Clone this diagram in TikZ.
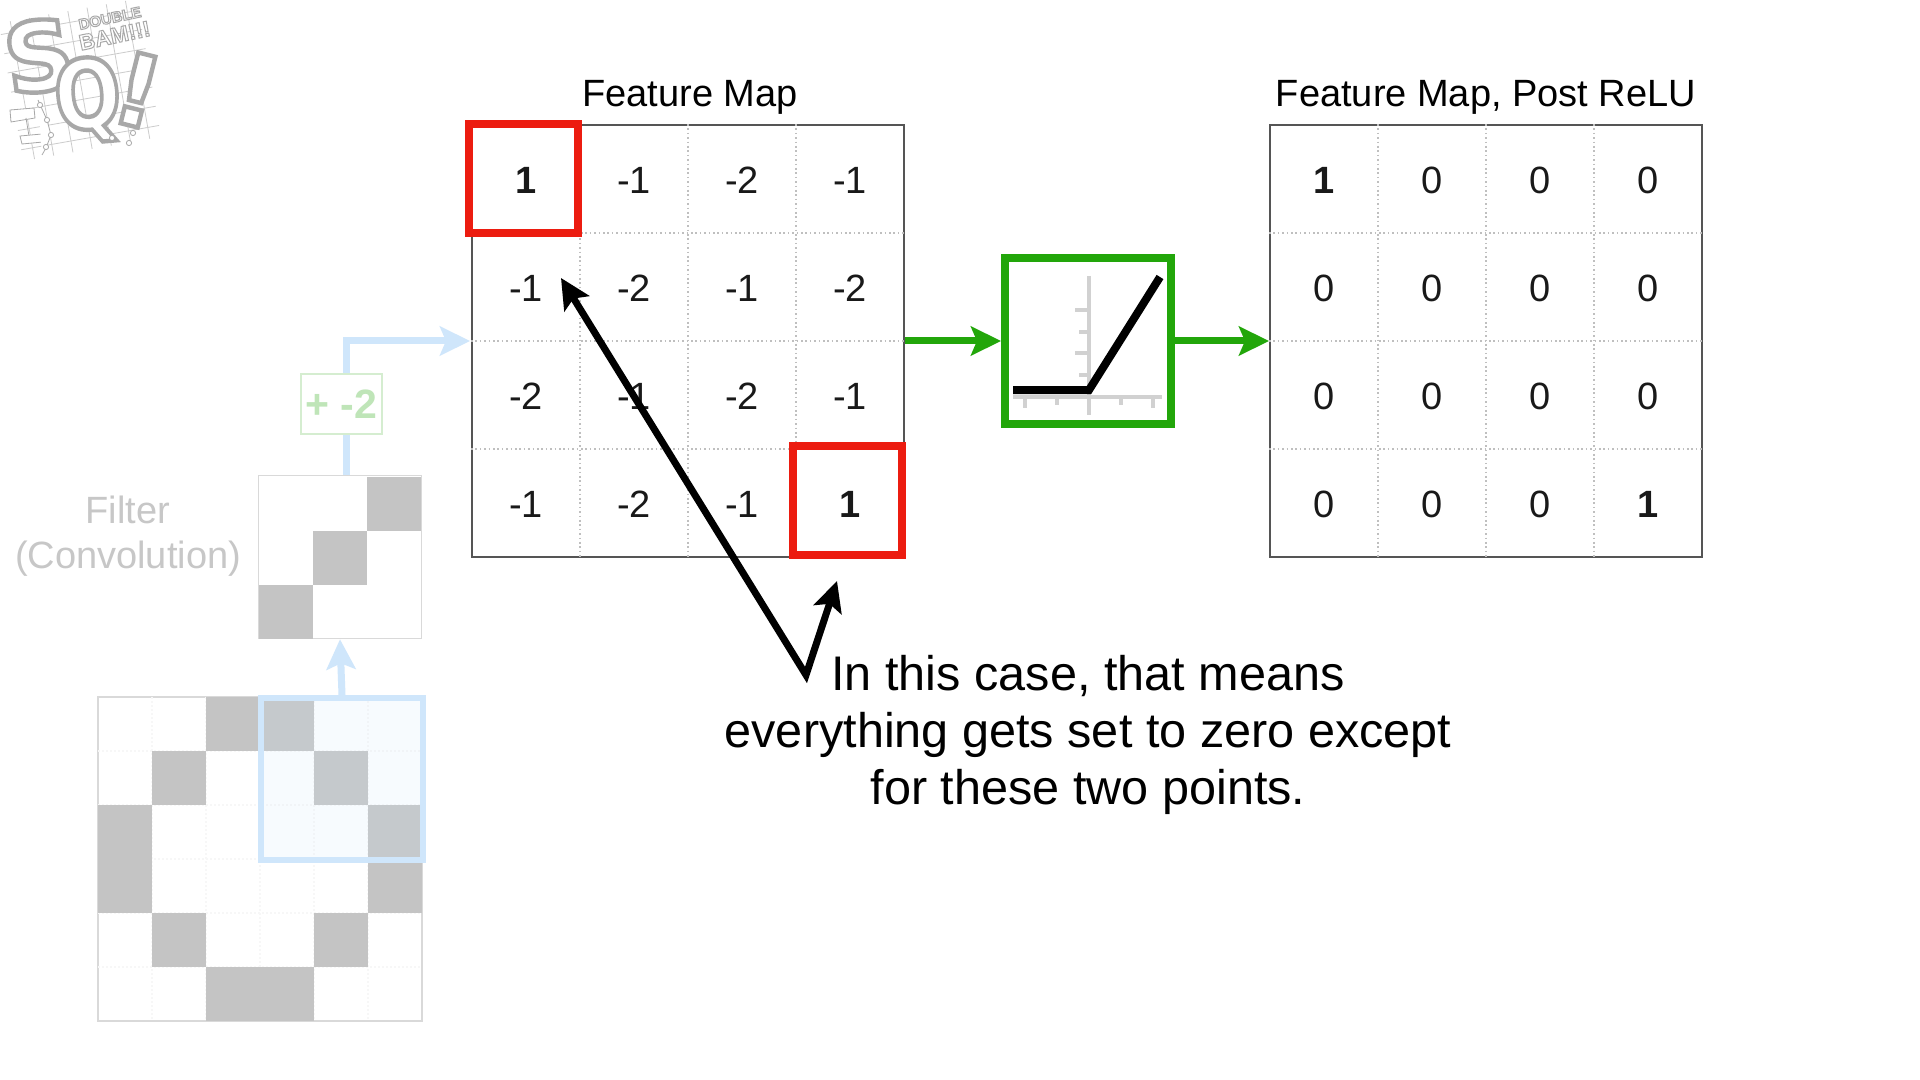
\documentclass[tikz,border=0pt]{standalone}
\usepackage{fontspec}
\setmainfont{Liberation Sans}
\newfontfamily\logofont{DejaVu Sans Bold}
\usetikzlibrary{arrows.meta,positioning}
\definecolor{fadeblue}{HTML}{CFE6FB}
\definecolor{fadegreen}{HTML}{D5EDD0}
\definecolor{fadetext}{HTML}{BFE5B8}
\definecolor{fadegray}{HTML}{C4C4C4}
\definecolor{gridgray}{HTML}{555555}
\definecolor{relugreen}{HTML}{22A60A}
\definecolor{boxred}{HTML}{EC1C10}
\definecolor{logogray}{HTML}{A8A8A8}
% outlined letters of the logo
\newcommand{\outlined}[2]{\special{pdf:code 2 Tr #1 w .66 .66 .66 RG 1 1 1 rg}#2\special{pdf:code 0 Tr}}
\tikzset{
    %Define standard arrow tip
    >={Stealth[length=15pt,width=14.5pt,inset=3pt]},
    %Define style for the value grids
    mapbox/.style={
           rectangle,
           draw=gridgray,
           line width=1pt,
           minimum size=216pt},
    cellnum/.style={
           inner sep=0pt,
           font=\fontsize{19}{22}\selectfont,
           text=black!90},
    title/.style={
           inner sep=0pt,
           anchor=base,
           font=\fontsize{19}{23}\selectfont},
    dotline/.style={
           draw=black!25,
           line width=.75pt,
           dash pattern=on .8pt off 1.4pt},
    faintline/.style={
           draw=black!3,
           line width=.75pt,
           dash pattern=on .75pt off 1.25pt},
    redbox/.style={
           rectangle,
           draw=boxred,
           line width=3.8pt,
           minimum width=54.5pt,
           minimum height=54.5pt},
    relubox/.style={
           rectangle,
           draw=relugreen,
           line width=4pt,
           minimum width=83pt,
           minimum height=82.5pt},
    fadebox/.style={
           rectangle,
           draw=black!15,
           line width=.8pt},
    fadecell/.style={fill=fadegray},
    % Define arrow styles
    greenarrow/.style={
           ->,
           draw=relugreen,
           line width=3.5pt},
    bluearrow/.style={
           ->,
           draw=fadeblue,
           line width=3.5pt},
    pointer/.style={
           <->,
           draw=black,
           line width=3.5pt,
           miter limit=10},
    axisline/.style={draw=black!18, line width=1.8pt},
    reluline/.style={draw=black, line width=4pt},
    logoletter/.style={
           transform shape,
           inner sep=0pt},
    logoline/.style={draw=black!20, line width=.4pt},
    logomark/.style={draw=logogray, line width=.4pt, fill=white}
}
\begin{document}
\begin{tikzpicture}[x=.5pt,y=-.5pt]
\useasboundingbox (0,0) rectangle (1920,1080);
\fill[white] (0,0) rectangle (1920,1080);

 %logo
\begin{scope}[shift={(80,80)},rotate=10]
\foreach \k in {-3,...,3}{
  \draw[logoline] (\k*19.5,-70) -- (\k*19.5,70);
  \draw[logoline] (-70,\k*19.5) -- (70,\k*19.5);
}
\end{scope}
\begin{scope}[rotate around={8:(39,56)}]
\node[logoletter,font=\logofont\fontsize{48}{48}\selectfont] (logoS) at (39,56) {\outlined{2.2}{S}};
\end{scope}
\begin{scope}[rotate around={5:(88,100)}]
\node[logoletter,xscale=.82,font=\logofont\fontsize{48}{48}\selectfont] (logoQ) at (88,100) {\outlined{2.2}{Q}};
\end{scope}
\begin{scope}[rotate around={-14:(138,90)}]
\node[logoletter,font=\logofont\fontsize{50}{50}\selectfont] (logoMark) at (138,90) {\outlined{2.2}{!}};
\end{scope}
\begin{scope}[rotate around={12:(112,28)}]
\node[logoletter,font=\bfseries\fontsize{7.5}{8}\selectfont] (logoDouble) at (112,18) {\outlined{.5}{DOUBLE}};
\node[logoletter,font=\bfseries\fontsize{11}{12}\selectfont] (logoBam) at (113,36) {\outlined{.5}{BAM!!!}};
\end{scope}
\draw[logomark] (10,110) -- (34,108) -- (35,118) -- (11,122) -- cycle;
\draw[logomark] (26,118) -- (29,136);
\draw[logomark] (20,136) -- (42,134) -- (43,142) -- (22,144) -- cycle;
\draw[logomark] (38,100) -- (47,120) -- (51,135) -- (46,148) -- (42,155);
\foreach \cx/\cy in {40/105,47/120,51/135,46/147,112/138,133/133,129/143}{
  \draw[logomark] (\cx,\cy) circle (2.6);
}

 %faded big grid
\node[fadebox,minimum size=162pt] (image) at (260,859) {};
\foreach \k in {1,...,5}{
  \draw[faintline] (98+54*\k,697) -- (98+54*\k,1021);
  \draw[faintline] (98,697+54*\k) -- (422,697+54*\k);
}
\foreach \c/\r in {2/0,3/0,1/1,4/1,0/2,5/2,0/3,5/3,1/4,4/4,2/5,3/5}{
  \fill[fadecell] (98+54*\c,697+54*\r) rectangle ++(54,54);
}
\node[rectangle,draw=fadeblue,line width=2.8pt,fill=fadeblue,fill opacity=.15,draw opacity=1,minimum size=81pt] (window) at (342,779) {};

 %faded filter
\node[fadebox,minimum size=81.5pt] (filter) at (340,557) {};
\foreach \c/\r in {2/0,1/1,0/2}{
  \fill[fadecell] (259+54*\c,477+54*\r) rectangle ++(54,54);
}
\node[inner sep=0pt,align=center,text=black!22,font=\fontsize{19}{22.5}\selectfont] (filterlabel) at (128,536.5) {Filter\\(Convolution)};
\coordinate (bluecorner) at (346,341);

\draw[bluearrow] (window.north) -- (filter.south);
\draw[bluearrow] (filter.north -| bluecorner) -- (bluecorner) -- (470,341);
\node[rectangle,draw=fadegreen,line width=.9pt,fill=white,minimum width=40.5pt,minimum height=30pt,
      text=fadetext,font=\bfseries\fontsize{20.5}{22}\selectfont,inner sep=0pt] (offset) at (341.5,404) {+ -2};

 %value grids
\node[mapbox] (featmap) at (688,341) {};
\node[mapbox] (postmap) at (1486,341) {};
\foreach \m in {featmap,postmap}{
  \foreach \k in {-1,0,1}{
    \draw[dotline] ([xshift=\k*54pt]\m.north) -- ([xshift=\k*54pt]\m.south);
    \draw[dotline] ([yshift=\k*54pt]\m.west) -- ([yshift=\k*54pt]\m.east);
  }
}
\node[title] (featmaptitle) at (690,106.5) {Feature Map};
\node[title] (postmaptitle) at (1486,106.5) {Feature Map, Post ReLU};

 %nodes
\foreach \vals [count=\r from 0] in {{\textbf{1},-1,-2,-1},{-1,-2,-1,-2},{-2,-1,-2,-1},{-1,-2,-1,\textbf{1}}}{
  \foreach \v [count=\c from 0] in \vals{
    \node[cellnum] (fm\r\c) at (526+108*\c,180+108*\r) {\v};
  }
}
\foreach \vals [count=\r from 0] in {{\textbf{1},0,0,0},{0,0,0,0},{0,0,0,0},{0,0,0,\textbf{1}}}{
  \foreach \v [count=\c from 0] in \vals{
    \node[cellnum] (pm\r\c) at (1324+108*\c,180+108*\r) {\v};
  }
}
\node[redbox] (firstone) at (523.5,178.7) {};
\node[redbox] (lastone) at (847.5,500.5) {};

 %relu
\node[relubox] (relu) at (1088,341) {};
\draw[axisline] (1089,276) -- (1089,415);
\draw[axisline] (1013,397) -- (1162,397);
\foreach \ty/\tx in {310/1075,332/1079,353/1075,375/1079}{
  \draw[axisline] (\tx,\ty) -- (1089,\ty);
}
\foreach \tx/\ty in {1025/408,1057/405,1121/405,1153/408}{
  \draw[axisline] (\tx,397) -- (\tx,\ty);
}
\draw[reluline] (1013,390) -- (1089,390) -- (1160,277);
\draw[greenarrow] (featmap.east) -- (relu.west);
\draw[greenarrow] (relu.east) -- (postmap.west);

 %caption and pointers
\node[inner sep=0pt,align=center,font=\fontsize{24.3}{28.5}\selectfont] (caption) at (1088,734.5) {In this case, that means\\everything gets set to zero except\\for these two points.};
\coordinate (apex) at (806,675);
\coordinate (tipfirst) at (561,278);
\coordinate (tiplast) at (837,581);
\draw[pointer] (tipfirst) -- (apex) -- (tiplast);

\end{tikzpicture}
\end{document}
